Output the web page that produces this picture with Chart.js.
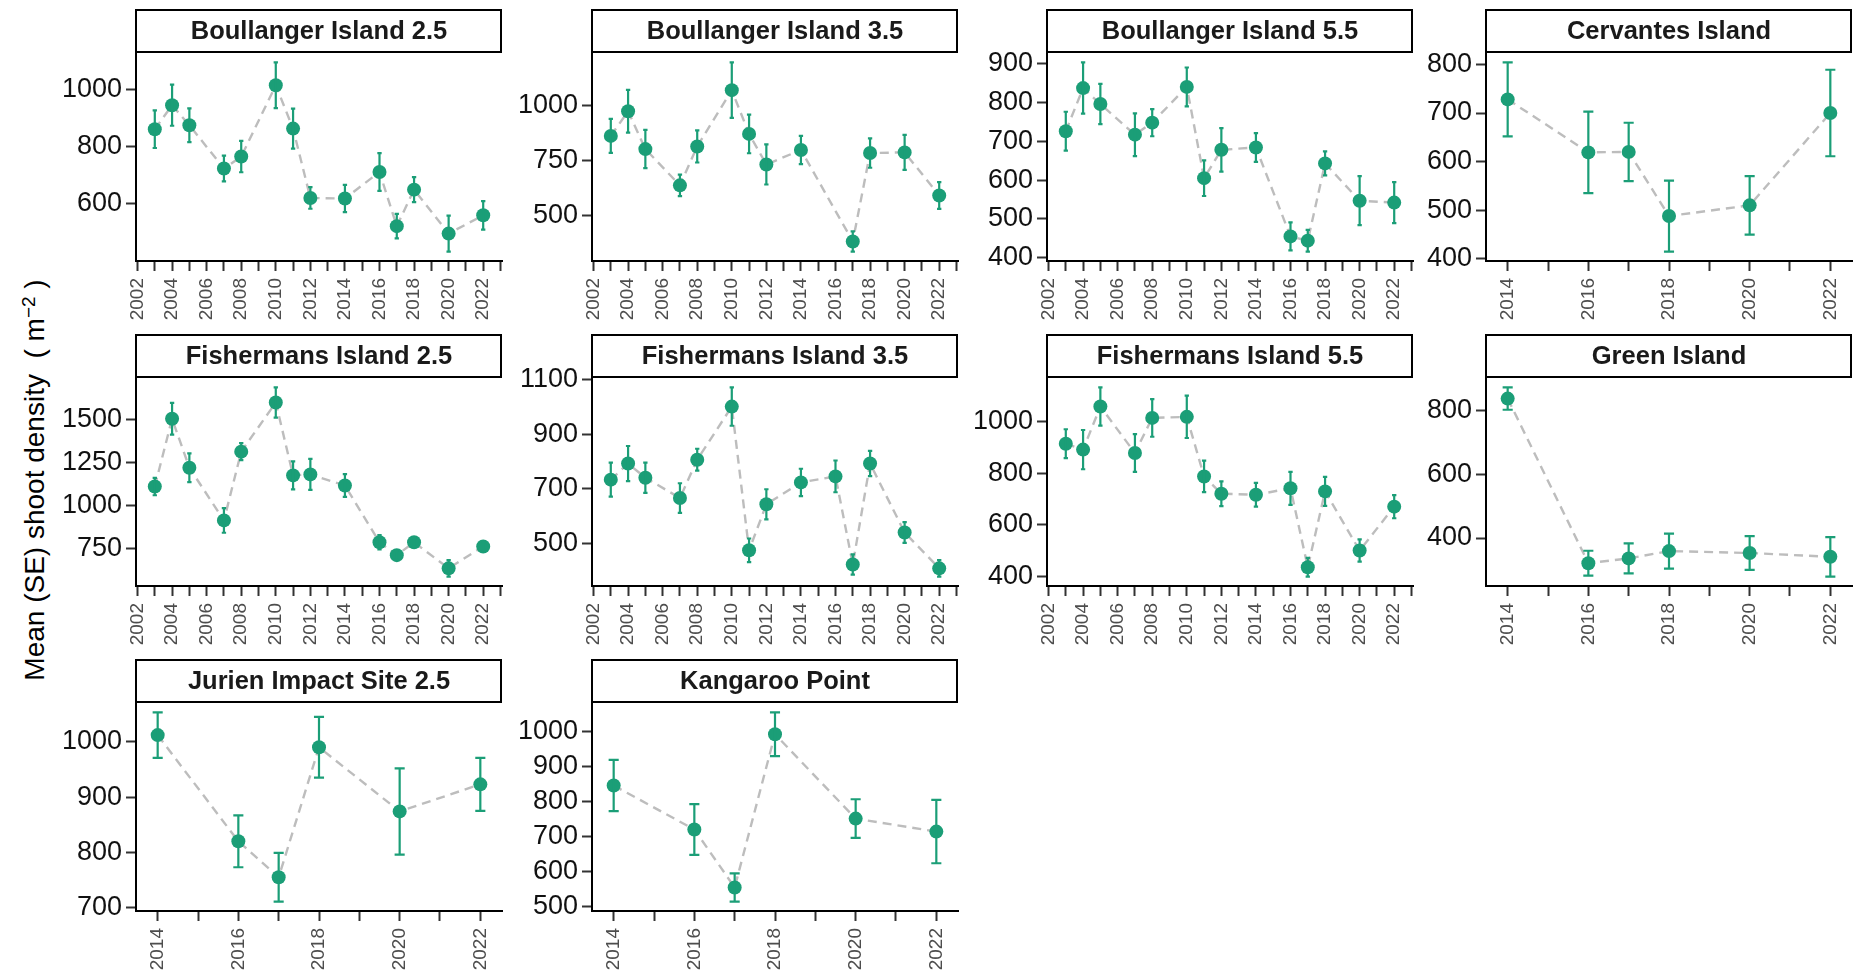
<!DOCTYPE html>
<html>
<head>
<meta charset="utf-8">
<script src="https://cdn.jsdelivr.net/npm/chart.js@4.4.1/dist/chart.umd.min.js"></script>
<style>
  html, body { margin: 0; padding: 0; background: #fff; width: 1854px; height: 974px; overflow: hidden; }
  canvas { position: absolute; }
  #ytitle {
    position: absolute; left: 35px; top: 480px;
    transform: translate(-50%, -50%) rotate(-90deg);
    font: 28px "Liberation Sans", Arial, sans-serif; color: #000; white-space: nowrap;
  }
  #ytitle sup { font-size: 19px; vertical-align: 0.5em; line-height: 0; }
</style>
</head>
<body>
<div id="ytitle">Mean (SE) shoot density&nbsp;&nbsp;(&nbsp;m<sup>−2</sup>&nbsp;)</div>
<script>
// ---- survey data: mean shoot density and standard error per year ----
const SITES = [
  'Boullanger Island 2.5', 'Boullanger Island 3.5', 'Boullanger Island 5.5', 'Cervantes Island',
  'Fishermans Island 2.5', 'Fishermans Island 3.5', 'Fishermans Island 5.5', 'Green Island',
  'Jurien Impact Site 2.5', 'Kangaroo Point'
];

const boul25Years = [2003, 2004, 2005, 2007, 2008, 2010, 2011, 2012, 2014, 2016, 2017, 2018, 2020, 2022];
const boul25Mean  = [862, 946, 876, 724, 766, 1016, 864, 621, 619, 712, 522, 650, 496, 560];
const boul25SE    = [66, 72, 59, 45, 55, 80, 70, 38, 48, 66, 43, 44, 63, 50];
const boul25Ticks = [600, 800, 1000];

const boul35Years = [2003, 2004, 2005, 2007, 2008, 2010, 2011, 2012, 2014, 2017, 2018, 2020, 2022];
const boul35Mean  = [861, 973, 801, 636, 813, 1069, 870, 731, 797, 381, 783, 786, 590];
const boul35SE    = [77, 97, 87, 49, 73, 126, 88, 91, 64, 46, 67, 80, 61];
const boul35Ticks = [500, 750, 1000];

const boul55Years = [2003, 2004, 2005, 2007, 2008, 2010, 2011, 2012, 2014, 2016, 2017, 2018, 2020, 2022];
const boul55Mean  = [726, 837, 796, 717, 748, 840, 605, 678, 684, 455, 444, 643, 547, 542];
const boul55SE    = [50, 66, 52, 55, 35, 50, 46, 56, 37, 36, 28, 31, 63, 53];
const boul55Ticks = [400, 500, 600, 700, 800, 900];

const cervYears = [2014, 2016, 2017, 2018, 2020, 2022];
const cervMean  = [728, 619, 620, 488, 510, 700];
const cervSE    = [76, 84, 60, 73, 60, 89];
const cervTicks = [400, 500, 600, 700, 800];

const fish25Years = [2003, 2004, 2005, 2007, 2008, 2010, 2011, 2012, 2014, 2016, 2017, 2018, 2020, 2022];
const fish25Mean  = [1110, 1506, 1220, 912, 1314, 1601, 1175, 1181, 1116, 784, 709, 784, 632, 760];
const fish25SE    = [51, 93, 84, 72, 50, 88, 82, 91, 66, 42, 25, 25, 48, 25];
const fish25Ticks = [750, 1000, 1250, 1500];

const fish35Years = [2003, 2004, 2005, 2007, 2008, 2010, 2011, 2012, 2014, 2016, 2017, 2018, 2020, 2022];
const fish35Mean  = [734, 793, 741, 667, 807, 1001, 476, 644, 724, 746, 424, 793, 541, 410];
const fish35SE    = [62, 64, 55, 54, 40, 70, 43, 55, 50, 58, 37, 46, 38, 30];
const fish35Ticks = [500, 700, 900, 1100];

const fish55Years = [2003, 2004, 2005, 2007, 2008, 2010, 2011, 2012, 2014, 2016, 2017, 2018, 2020, 2022];
const fish55Mean  = [915, 892, 1059, 879, 1015, 1019, 788, 721, 717, 742, 436, 730, 501, 671];
const fish55SE    = [56, 76, 74, 73, 73, 82, 61, 48, 46, 64, 36, 56, 43, 45];
const fish55Ticks = [400, 600, 800, 1000];

const greenYears = [2014, 2016, 2017, 2018, 2020, 2022];
const greenMean  = [838, 321, 336, 359, 353, 341];
const greenSE    = [35, 39, 47, 55, 53, 62];
const greenTicks = [400, 600, 800];

const jurienYears = [2014, 2016, 2017, 2018, 2020, 2022];
const jurienMean  = [1012, 820, 755, 990, 874, 923];
const jurienSE    = [41, 47, 44, 55, 78, 48];
const jurienTicks = [700, 800, 900, 1000];

const kangYears = [2014, 2016, 2017, 2018, 2020, 2022];
const kangMean  = [845, 720, 555, 991, 751, 714];
const kangSE    = [73, 72, 40, 62, 55, 90];
const kangTicks = [500, 600, 700, 800, 900, 1000];

// ---- facet layout ----
const PANELS = [
  { title: SITES[0], years: boul25Years, mean: boul25Mean, se: boul25SE, yTicks: boul25Ticks, col: 0, row: 0 },
  { title: SITES[1], years: boul35Years, mean: boul35Mean, se: boul35SE, yTicks: boul35Ticks, col: 1, row: 0 },
  { title: SITES[2], years: boul55Years, mean: boul55Mean, se: boul55SE, yTicks: boul55Ticks, col: 2, row: 0 },
  { title: SITES[3], years: cervYears,   mean: cervMean,   se: cervSE,   yTicks: cervTicks,   col: 3, row: 0 },
  { title: SITES[4], years: fish25Years, mean: fish25Mean, se: fish25SE, yTicks: fish25Ticks, col: 0, row: 1 },
  { title: SITES[5], years: fish35Years, mean: fish35Mean, se: fish35SE, yTicks: fish35Ticks, col: 1, row: 1 },
  { title: SITES[6], years: fish55Years, mean: fish55Mean, se: fish55SE, yTicks: fish55Ticks, col: 2, row: 1 },
  { title: SITES[7], years: greenYears,  mean: greenMean,  se: greenSE,  yTicks: greenTicks,  col: 3, row: 1 },
  { title: SITES[8], years: jurienYears, mean: jurienMean, se: jurienSE, yTicks: jurienTicks, col: 0, row: 2 },
  { title: SITES[9], years: kangYears,   mean: kangMean,   se: kangSE,   yTicks: kangTicks,   col: 1, row: 2 }
];

const COL_LEFT = [136, 592, 1047, 1486];
const ROW_TOP = [53, 378, 703];
const PLOT_W = 366, PLOT_H = 208;
const STRIP_H = 44, PAD_TOP = STRIP_H + 2, PAD_RIGHT = 2;
const Y_W = 110, X_H = 70;
const CAP = 0.25;                 // error-bar cap width, in years
const GREEN = '#1B9E77';
const FONT = '"Liberation Sans", Arial, sans-serif';

Chart.defaults.font.family = FONT;

function expand(lo, hi) {
  const d = (hi - lo) * 0.05;
  return [lo - d, hi + d];
}

// facet strip: boxed title above the panel
const stripPlugin = {
  id: 'strip',
  afterDraw(chart, args, opts) {
    const { ctx, chartArea: a } = chart;
    const top = a.top - STRIP_H;
    ctx.save();
    ctx.fillStyle = '#fff';
    ctx.fillRect(a.left, top, a.right - a.left, STRIP_H);
    ctx.lineWidth = 2;
    ctx.strokeStyle = '#000';
    ctx.strokeRect(a.left, top + 1, a.right - a.left - 1, STRIP_H - 2);
    ctx.fillStyle = '#1a1a1a';
    ctx.font = 'bold 25.5px ' + FONT;
    ctx.textAlign = 'center';
    ctx.textBaseline = 'middle';
    ctx.fillText(opts.text, (a.left + a.right) / 2, top + STRIP_H / 2 + 1);
    ctx.restore();
  }
};

// mean ± SE error bars, positioned through the chart scales
const errorBarPlugin = {
  id: 'errorBars',
  afterDatasetsDraw(chart) {
    const { ctx, scales: { x, y } } = chart;
    const pts = chart.data.datasets[0].data;
    ctx.save();
    ctx.strokeStyle = GREEN;
    ctx.lineWidth = 2.2;
    ctx.lineCap = 'butt';
    pts.forEach(p => {
      const px = x.getPixelForValue(p.x);
      const yLo = y.getPixelForValue(p.y - p.se);
      const yHi = y.getPixelForValue(p.y + p.se);
      const cl = x.getPixelForValue(p.x - CAP / 2);
      const cr = x.getPixelForValue(p.x + CAP / 2);
      ctx.beginPath();
      ctx.moveTo(px, yLo); ctx.lineTo(px, yHi);
      ctx.moveTo(cl, yLo); ctx.lineTo(cr, yLo);
      ctx.moveTo(cl, yHi); ctx.lineTo(cr, yHi);
      ctx.stroke();
    });
    ctx.restore();
  }
};

PANELS.forEach(p => {
  const lows = p.mean.map((m, i) => m - p.se[i]);
  const highs = p.mean.map((m, i) => m + p.se[i]);
  const [ymin, ymax] = expand(Math.min(...lows), Math.max(...highs));
  const [xmin, xmax] = expand(Math.min(...p.years) - CAP / 2, Math.max(...p.years) + CAP / 2);
  const yearTicks = [];
  for (let v = Math.ceil(xmin); v <= Math.floor(xmax); v++) yearTicks.push(v);

  const canvas = document.createElement('canvas');
  const w = Y_W + PLOT_W + PAD_RIGHT;
  const h = PAD_TOP + PLOT_H + X_H;
  canvas.width = w; canvas.height = h;
  canvas.style.width = w + 'px'; canvas.style.height = h + 'px';
  canvas.style.left = (COL_LEFT[p.col] - Y_W) + 'px';
  canvas.style.top = (ROW_TOP[p.row] - PAD_TOP) + 'px';
  document.body.appendChild(canvas);

  new Chart(canvas, {
    type: 'line',
    data: {
      datasets: [{
        data: p.years.map((yr, i) => ({ x: yr, y: p.mean[i], se: p.se[i] })),
        borderColor: '#BDBDBD',
        borderWidth: 2.4,
        borderDash: [9, 6],
        tension: 0,
        pointRadius: 7,
        pointBorderWidth: 0,
        pointBackgroundColor: GREEN,
        clip: false
      }]
    },
    options: {
      responsive: false,
      animation: false,
      devicePixelRatio: 1,
      layout: { autoPadding: false, padding: { top: PAD_TOP, right: PAD_RIGHT, left: 0, bottom: 0 } },
      plugins: {
        legend: { display: false },
        tooltip: { enabled: false },
        strip: { text: p.title }
      },
      scales: {
        x: {
          type: 'linear', min: xmin, max: xmax,
          afterBuildTicks: s => { s.ticks = yearTicks.map(v => ({ value: v })); },
          afterFit: s => { s.height = X_H; s.paddingLeft = 0; s.paddingRight = 0; },
          ticks: {
            autoSkip: false, minRotation: 90, maxRotation: 90,
            font: { size: 19 }, color: '#4d4d4d', padding: 7,
            callback: v => (v % 2 === 0 ? String(v) : '')
          },
          grid: { drawOnChartArea: false, drawTicks: true, tickLength: 10, tickWidth: 2, tickColor: '#333' },
          border: { display: true, color: '#000', width: 2 }
        },
        y: {
          type: 'linear', min: ymin, max: ymax,
          afterBuildTicks: s => { s.ticks = p.yTicks.map(v => ({ value: v })); },
          afterFit: s => { s.width = Y_W; s.paddingTop = 0; s.paddingBottom = 0; },
          ticks: { font: { size: 27 }, color: '#111', padding: 4, callback: v => String(v) },
          grid: { drawOnChartArea: false, drawTicks: true, tickLength: 10, tickWidth: 2, tickColor: '#333' },
          border: { display: true, color: '#000', width: 2 }
        }
      }
    },
    plugins: [errorBarPlugin, stripPlugin]
  });
});
</script>
</body>
</html>
